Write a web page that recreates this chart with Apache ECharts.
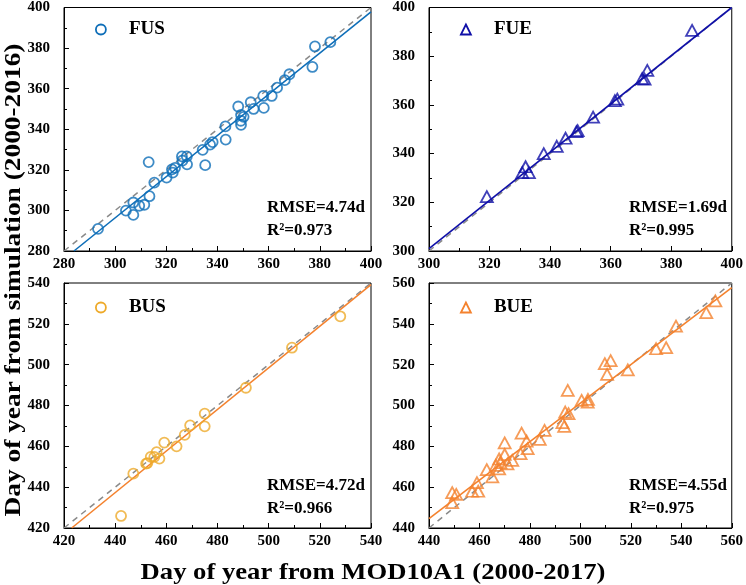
<!DOCTYPE html>
<html><head><meta charset="utf-8">
<script src="https://cdn.jsdelivr.net/npm/echarts@6/dist/echarts.min.js"></script>
<style>html,body{margin:0;padding:0;background:#fff}#c{width:746px;height:585px}</style>
</head><body><div id="c"></div>
<script>
// ---- data ----
const FUS_x = [293.3,304.2,307.1,307.1,309.4,311.4,313.4,313.1,315.3,320.1,322.2,322.5,323.4,326.1,326.3,328.0,328.1,334.2,335.2,337.1,338.1,343.1,343.2,348.1,349.2,350.2,349.1,349.2,353.0,354.1,357.9,358.1,361.2,363.3,366.3,368.1,377.1,378.1,384.1];
const FUS_y = [290.9,299.9,303.9,297.8,302.3,302.8,307.0,323.8,313.7,316.2,320.2,318.6,321.0,326.6,324.6,326.6,322.7,329.8,322.3,332.4,333.7,341.4,334.9,351.2,347.1,346.1,344.2,342.2,353.3,350.0,356.4,350.5,356.4,360.5,364.2,367.1,370.7,380.8,382.9];
const FUE_x = [319.1,331.9,330.8,333.0,337.9,342.2,345.1,348.7,349.1,354.2,361.4,362.2,370.4,371.2,372.1,386.9];
const FUE_y = [322.3,334.6,332.2,332.2,340.0,343.0,346.3,349.0,349.4,355.0,361.7,362.4,370.8,370.6,374.2,390.6];
const BUS_x = [442.3,447.1,452.1,452.6,453.9,455.3,456.2,457.3,459.2,464.0,467.2,469.3,475.0,475.0,491.1,509.1,528.0];
const BUS_y = [425.9,446.6,451.5,451.8,454.8,454.8,457.2,454.0,461.8,460.0,465.6,470.3,476.0,469.8,488.7,508.3,523.7];
const BUE_x = [449.2,449.2,450.8,457.1,459.0,459.5,462.9,465.1,466.5,467.8,467.8,468.3,470.0,470.0,471.1,473.0,476.3,476.7,478.7,479.1,483.9,485.8,492.9,493.6,494.0,495.0,495.3,500.5,502.9,503.0,509.7,512.0,510.6,518.8,530.0,534.0,537.9,549.9,553.5];
const BUE_y = [457.3,452.4,456.5,458.0,462.2,458.0,468.6,465.0,470.7,473.8,469.0,472.0,481.7,476.0,471.4,473.1,476.4,486.5,482.6,478.9,483.4,487.8,491.6,489.8,496.8,507.4,496.0,502.5,501.7,503.0,520.5,522.0,515.2,517.4,527.8,528.3,538.9,545.5,551.2];
// fitted regression line end points
const FUS_fit = [[283.9,280],[400,397.9]];
const FUE_fit = [[300,301],[400,400]];
const BUS_fit = [[423,420],[540,539.2]];
const BUE_fit = [[440,444.6],[560,557.7]];
// axis ranges [min,max], tick step 20
const FUS_range = [280,400];
const FUE_range = [300,400];
const BUS_range = [420,540];
const BUE_range = [440,560];
const names = ['FUS','FUE','BUS','BUE'];
const rmse = ['4.74','1.69','4.72','4.55'];
const r2 = ['0.973','0.995','0.966','0.975'];

// ---- layout / style ----
const FONT = '"Liberation Serif","Times New Roman",serif';
const grids = [
  {left:64, top:5, width:307, height:246},
  {left:429, top:5, width:306, height:246},
  {left:64, top:283, width:307, height:245},
  {left:429, top:283, width:306, height:245}
];
const markerColors = ['#0e6eb8','#1010a8','#eeaa2a','#f4822e'];
const lineColors = ['#0e6eb8','#1010a8','#f4822e','#f4822e'];
const symbols = ['circle','triangle','circle','triangle'];
const symSize = [10,[12,11],10,[12,11]];
const xs = [FUS_x,FUE_x,BUS_x,BUE_x];
const ys = [FUS_y,FUE_y,BUS_y,BUE_y];
const fits = [FUS_fit,FUE_fit,BUS_fit,BUE_fit];
const ranges = [FUS_range,FUE_range,BUS_range,BUE_range];

function zip(a,b){return a.map((v,i)=>[v,b[i]]);}

const xAxis=[], yAxis=[], series=[], legend=[], graphic=[];
grids.forEach((g,i)=>{
  g.show = true; g.borderColor = '#000'; g.borderWidth = 1; g.backgroundColor='#fff';
  const common = (isX)=>({
    gridIndex:i, type:'value', min:ranges[i][0], max:ranges[i][1], interval:20,
    axisLine:{show:true,lineStyle:{color:'#000',width:1}},
    axisTick:{show:true,inside:true,length:5,lineStyle:{color:'#000'}},
    minorTick:{show:true,splitNumber:2,length:3,lineStyle:{color:'#000'}},
    splitLine:{show:false},
    axisLabel:{color:'#000',fontFamily:FONT,fontWeight:'bold',fontSize:15,margin:isX?6:14}
  });
  xAxis.push(common(true));
  yAxis.push(common(false));
  series.push({
    name:names[i], type:'line', xAxisIndex:i, yAxisIndex:i,
    data:[[ranges[i][0],ranges[i][0]],[ranges[i][1],ranges[i][1]]],
    showSymbol:false, symbol:'none', silent:true,
    lineStyle:{color:'#8a8a8a',width:1.5,type:[6,5]}, z:2
  });
  series.push({
    name:names[i]+'fit', type:'line', xAxisIndex:i, yAxisIndex:i,
    data:fits[i], showSymbol:false, symbol:'none', silent:true,
    lineStyle:{color:lineColors[i],width:1.6}, z:3
  });
  series.push({
    name:names[i], type:'scatter', xAxisIndex:i, yAxisIndex:i,
    data:zip(xs[i],ys[i]), symbol:symbols[i], symbolSize:symSize[i],
    itemStyle:{color:'rgba(0,0,0,0)',borderColor:markerColors[i],borderWidth:1.8}, z:4
  });
  legend.push({
    data:[{name:names[i],icon:symbols[i],itemStyle:{color:'rgba(0,0,0,0)',borderColor:markerColors[i],borderWidth:1.8}}],
    left:g.left+26, top:g.top+10, itemWidth:10, itemHeight:10, selectedMode:false,
    textStyle:{color:'#000',fontFamily:FONT,fontWeight:'bold',fontSize:19,padding:[0,0,0,18]}
  });
  const tx = g.left + (i%2===0?203:200);
  graphic.push({type:'text', left:tx, top:g.top+194,
    style:{text:'RMSE='+rmse[i]+'d', fill:'#000', font:'bold 17px '+FONT}});
  graphic.push({type:'text', left:tx, top:g.top+217,
    style:{text:'R\u00B2='+r2[i], fill:'#000', font:'bold 17px '+FONT}});
});
graphic.push({type:'text', x:373, y:573, scaleX:1.11,
  style:{text:'Day of year from MOD10A1 (2000-2017)', fill:'#000', font:'bold 24px '+FONT, align:'center', verticalAlign:'middle'}});
graphic.push({type:'text', x:14, y:280, rotation:Math.PI/2, scaleX:1.14,
  style:{text:'Day of year from simulation (2000-2016)', fill:'#000', font:'bold 24px '+FONT, align:'center', verticalAlign:'middle'}});

const chart = echarts.init(document.getElementById('c'),null,{renderer:'canvas'});
chart.setOption({
  animation:false, backgroundColor:'#fff',
  grid:grids, xAxis, yAxis, series, legend, graphic
});
</script></body></html>
